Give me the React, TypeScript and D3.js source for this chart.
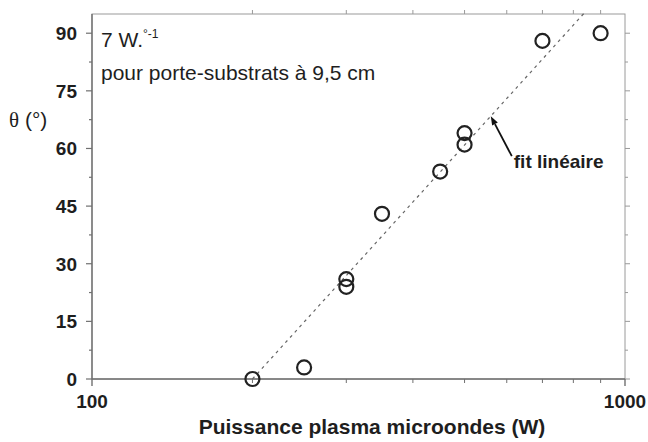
import React, { useRef, useEffect } from 'react';
import * as d3 from 'd3';

// Puissance plasma (W) vs angle theta (°)
const powerW = [200, 250, 300, 300, 350, 450, 500, 500, 700, 900];
const thetaDeg = [0, 3, 24, 26, 43, 54, 61, 64, 88, 90];

const yTicks = [0, 15, 30, 45, 60, 75, 90];
const xLabelTicks = [100, 1000];
const xMinorTicks = [200, 300, 400, 500, 600, 700, 800, 900];

// linear fit in log scale: theta = slope * log10(P / P0)
const fitSlope = 153;
const fitZeroPower = 200;
const fitRange = [200, 840];
const arrowPower = 560;

const App: React.FC = () => {
    const svgRef = useRef<SVGSVGElement>(null);
    const width = 648;
    const height = 442;
    const margin = { top: 14, right: 23, bottom: 63, left: 92 };

    useEffect(() => {
        if (!svgRef.current) return;
        const svg = d3.select(svgRef.current);
        svg.selectAll('*').remove();

        const innerWidth = width - margin.left - margin.right;
        const innerHeight = height - margin.top - margin.bottom;
        const font = "'Liberation Sans', Arial, sans-serif";
        const axisColor = '#707070';
        const textColor = '#1e1e1e';

        const x = d3.scaleLog().domain([100, 1000]).range([0, innerWidth]);
        const y = d3.scaleLinear().domain([0, 95]).range([innerHeight, 0]);

        const g = svg.append('g')
            .attr('transform', `translate(${margin.left},${margin.top})`);

        // frame
        g.append('rect')
            .attr('x', 0).attr('y', 0)
            .attr('width', innerWidth).attr('height', innerHeight)
            .attr('fill', 'none')
            .attr('stroke', '#9a9a9a')
            .attr('stroke-width', 1);
        g.append('line')
            .attr('x1', 0).attr('x2', innerWidth)
            .attr('y1', innerHeight).attr('y2', innerHeight)
            .attr('stroke', axisColor).attr('stroke-width', 1.6);
        g.append('line')
            .attr('x1', 0).attr('x2', 0)
            .attr('y1', 0).attr('y2', innerHeight)
            .attr('stroke', axisColor).attr('stroke-width', 1.4);

        // y ticks, left + right, major every 15 and minor every 7.5
        const yAll = d3.range(0, 95, 7.5);
        yAll.forEach(v => {
            const major = v % 15 === 0;
            g.append('line')
                .attr('x1', major ? -6 : -3).attr('x2', 0)
                .attr('y1', y(v)).attr('y2', y(v))
                .attr('stroke', axisColor).attr('stroke-width', 1.2);
            g.append('line')
                .attr('x1', innerWidth).attr('x2', innerWidth + (major ? 5 : 3))
                .attr('y1', y(v)).attr('y2', y(v))
                .attr('stroke', '#9a9a9a').attr('stroke-width', 1);
        });
        yTicks.forEach(v => {
            g.append('text')
                .attr('x', -15)
                .attr('y', y(v))
                .attr('dy', '0.36em')
                .attr('text-anchor', 'end')
                .attr('font-family', font)
                .attr('font-weight', 'bold')
                .attr('font-size', 19)
                .attr('fill', textColor)
                .text(v);
        });

        // x ticks, bottom + top
        xMinorTicks.forEach(v => {
            g.append('line')
                .attr('x1', x(v)).attr('x2', x(v))
                .attr('y1', innerHeight).attr('y2', innerHeight + 4)
                .attr('stroke', axisColor).attr('stroke-width', 1);
            g.append('line')
                .attr('x1', x(v)).attr('x2', x(v))
                .attr('y1', 0).attr('y2', -4)
                .attr('stroke', '#9a9a9a').attr('stroke-width', 1);
        });
        xLabelTicks.forEach(v => {
            g.append('line')
                .attr('x1', x(v)).attr('x2', x(v))
                .attr('y1', innerHeight).attr('y2', innerHeight + 7)
                .attr('stroke', axisColor).attr('stroke-width', 1.4);
            g.append('text')
                .attr('x', x(v))
                .attr('y', innerHeight + 29)
                .attr('text-anchor', 'middle')
                .attr('font-family', font)
                .attr('font-weight', 'bold')
                .attr('font-size', 19)
                .attr('fill', textColor)
                .text(v);
        });

        // fit line
        const fit = (p: number) => fitSlope * Math.log10(p / fitZeroPower);
        g.append('line')
            .attr('x1', x(fitRange[0])).attr('y1', y(fit(fitRange[0])))
            .attr('x2', x(fitRange[1])).attr('y2', y(fit(fitRange[1])))
            .attr('stroke', '#666')
            .attr('stroke-width', 1.2)
            .attr('stroke-dasharray', '3,4');

        // data points
        g.selectAll('circle.pt')
            .data(powerW.map((p, i) => ({ p, t: thetaDeg[i] })))
            .enter()
            .append('circle')
            .attr('class', 'pt')
            .attr('cx', d => x(d.p))
            .attr('cy', d => y(d.t))
            .attr('r', 7)
            .attr('fill', 'none')
            .attr('stroke', '#222')
            .attr('stroke-width', 2.2);

        // annotation arrow
        const tipX = x(arrowPower);
        const tipY = y(fit(arrowPower));
        const tailX = tipX + 21;
        const tailY = tipY + 40;
        const ang = Math.atan2(tipY - tailY, tipX - tailX);
        const hl = 9, hw = 3.2;
        const bx = tipX - hl * Math.cos(ang);
        const by = tipY - hl * Math.sin(ang);
        g.append('line')
            .attr('x1', tailX).attr('y1', tailY)
            .attr('x2', bx).attr('y2', by)
            .attr('stroke', '#111').attr('stroke-width', 1.8);
        g.append('path')
            .attr('d', `M${tipX},${tipY}L${bx - hw * Math.sin(ang)},${by + hw * Math.cos(ang)}L${bx + hw * Math.sin(ang)},${by - hw * Math.cos(ang)}Z`)
            .attr('fill', '#111');
        g.append('text')
            .attr('x', tailX + 2)
            .attr('y', tailY + 12)
            .attr('font-family', font)
            .attr('font-weight', 'bold')
            .attr('font-size', 19)
            .attr('fill', textColor)
            .text('fit linéaire');

        // inner labels
        const t1 = g.append('text')
            .attr('x', 9)
            .attr('y', 33)
            .attr('font-family', font)
            .attr('font-size', 21)
            .attr('fill', textColor);
        t1.append('tspan').text('7 W.');
        t1.append('tspan').attr('font-size', 12).attr('dy', -9).text('°-1');
        g.append('text')
            .attr('x', 9)
            .attr('y', 66)
            .attr('font-family', font)
            .attr('font-size', 21)
            .attr('fill', textColor)
            .text('pour porte-substrats à 9,5 cm');

        // axis titles
        const yTitle = svg.append('text')
            .attr('x', 9)
            .attr('y', 127)
            .attr('font-family', font)
            .attr('font-size', 21)
            .attr('fill', textColor);
        yTitle.append('tspan').attr('font-family', "'Liberation Serif', serif").text('θ');
        yTitle.append('tspan').text(' (°)');
        svg.append('text')
            .attr('x', 372)
            .attr('y', 434)
            .attr('text-anchor', 'middle')
            .attr('font-family', font)
            .attr('font-weight', 'bold')
            .attr('font-size', 21)
            .attr('fill', textColor)
            .text('Puissance plasma microondes (W)');
    }, []);

    return (
        <div style={{ position: 'absolute', left: 0, top: 0 }}>
            <svg ref={svgRef} width={width} height={height} style={{ display: 'block', background: '#fff' }} />
        </div>
    );
};

export default App;
